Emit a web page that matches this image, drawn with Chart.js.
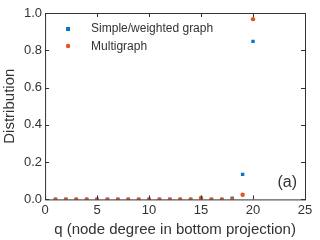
<!DOCTYPE html>
<html lang="en">
<head>
    <meta charset="UTF-8">
    <title>Degree distribution (a)</title>
    <style>
        html, body { margin: 0; padding: 0; background: #fff; }
        #wrap { width: 320px; height: 240px; position: relative; }
    </style>
</head>
<body>
    <div id="wrap"><canvas id="myChart" width="320" height="240"></canvas></div>

    <script src="https://cdn.jsdelivr.net/npm/chart.js"></script>
    <script>
        // q values (node degree in bottom projection)
        const degrees = [1, 2, 3, 4, 5, 6, 7, 8, 9, 10, 11, 12, 13, 14, 15, 16, 17, 18, 19, 20];
        const simpleWeighted = [0, 0, 0, 0, 0, 0, 0, 0, 0, 0, 0, 0, 0, 0, 0.001, 0, 0, 0.007, 0.134, 0.848];
        const multigraph = [0, 0, 0, 0, 0, 0, 0, 0, 0, 0, 0, 0, 0, 0, 0.008, 0, 0, 0.001, 0.025, 0.967];
        const seriesNames = ['Simple/weighted graph', 'Multigraph'];
        const xTicks = [0, 5, 10, 15, 20, 25];
        const yTicks = [0, 0.2, 0.4, 0.6, 0.8, 1.0];

        const blue = '#0b73c6';
        const orange = '#e5541f';
        const axisColor = '#333333';
        const font = 'Liberation Sans, Arial, sans-serif';

        const toPoints = (vals) => vals.map((v, i) => ({ x: degrees[i], y: v }));

        // box around the plot, inward ticks on all sides, legend and panel label
        const framePlugin = {
            id: 'frame',
            afterDraw(chart) {
                const { ctx, chartArea: a, scales } = chart;
                ctx.save();
                ctx.strokeStyle = axisColor;
                ctx.lineWidth = 1;
                ctx.strokeRect(a.left + 0.5, a.top + 0.5, a.right - a.left, a.bottom - a.top);
                const len = 4;
                ctx.beginPath();
                xTicks.forEach(t => {
                    const x = Math.round(scales.x.getPixelForValue(t)) + 0.5;
                    ctx.moveTo(x, a.bottom); ctx.lineTo(x, a.bottom - len);
                    ctx.moveTo(x, a.top); ctx.lineTo(x, a.top + len);
                });
                yTicks.forEach(t => {
                    const y = Math.round(scales.y.getPixelForValue(t)) + 0.5;
                    ctx.moveTo(a.left, y); ctx.lineTo(a.left + len, y);
                    ctx.moveTo(a.right, y); ctx.lineTo(a.right - len, y);
                });
                ctx.stroke();

                // legend inside the plot
                ctx.font = '12px ' + font;
                ctx.textBaseline = 'middle';
                ctx.fillStyle = blue;
                ctx.fillRect(a.left + 21, a.top + 14, 4, 4);
                ctx.fillStyle = orange;
                ctx.beginPath();
                ctx.arc(a.left + 23, a.top + 33, 2.2, 0, Math.PI * 2);
                ctx.fill();
                ctx.fillStyle = axisColor;
                ctx.fillText(seriesNames[0], a.left + 46, a.top + 16);
                ctx.fillText(seriesNames[1], a.left + 46, a.top + 34);

                ctx.font = '16px ' + font;
                ctx.textAlign = 'right';
                ctx.fillText('(a)', a.right - 8, a.bottom - 17);
                ctx.restore();
            }
        };

        const ctx = document.getElementById('myChart').getContext('2d');
        new Chart(ctx, {
            type: 'scatter',
            data: {
                datasets: [
                    {
                        label: seriesNames[0],
                        data: toPoints(simpleWeighted),
                        pointStyle: 'rect',
                        pointRadius: 2.4,
                        backgroundColor: blue,
                        borderWidth: 0,
                        order: 2
                    },
                    {
                        label: seriesNames[1],
                        data: toPoints(multigraph),
                        pointStyle: 'circle',
                        pointRadius: 2.2,
                        backgroundColor: orange,
                        borderWidth: 0,
                        order: 1
                    }
                ]
            },
            options: {
                responsive: false,
                animation: false,
                layout: { padding: { top: 13, right: 15, left: 1, bottom: 0 } },
                plugins: {
                    legend: { display: false },
                    tooltip: { enabled: false }
                },
                scales: {
                    x: {
                        type: 'linear',
                        min: 0,
                        max: 25,
                        grid: { display: false, drawTicks: false, tickLength: 0 },
                        border: { display: false },
                        afterBuildTicks: (s) => { s.ticks = xTicks.map(v => ({ value: v })); },
                        ticks: { color: axisColor, padding: 3, font: { family: font, size: 13 } },
                        title: {
                            display: true,
                            text: 'q (node degree in bottom projection)',
                            color: axisColor,
                            padding: { top: 0, bottom: 1 },
                            font: { family: font, size: 15 }
                        }
                    },
                    y: {
                        min: 0,
                        max: 1,
                        grid: { display: false, drawTicks: false, tickLength: 0 },
                        border: { display: false },
                        afterBuildTicks: (s) => { s.ticks = yTicks.map(v => ({ value: v })); },
                        ticks: {
                            color: axisColor,
                            padding: 3,
                            font: { family: font, size: 13 },
                            callback: (v) => v.toFixed(1)
                        },
                        title: {
                            display: true,
                            text: 'Distribution',
                            color: axisColor,
                            padding: { top: 0, bottom: 2 },
                            font: { family: font, size: 15 }
                        }
                    }
                }
            },
            plugins: [framePlugin]
        });
    </script>
</body>
</html>
